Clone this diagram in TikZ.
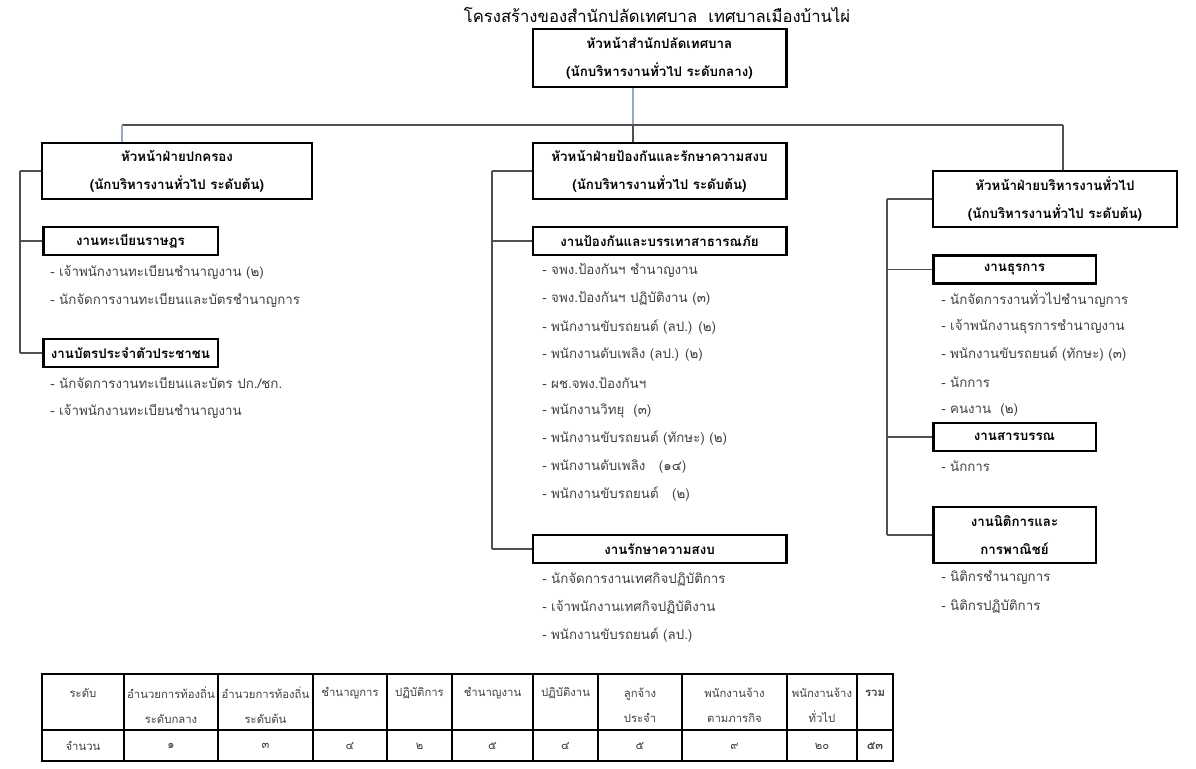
\documentclass[tikz,border=0pt]{standalone}
\usepackage{fontspec}
\setmainfont{Loma}[Script=Thai]
\usetikzlibrary{calc}
\definecolor{ink}{HTML}{404040}
\definecolor{wire}{HTML}{505050}
\definecolor{steel}{HTML}{95A9C6}
\tikzset{
  box/.style={draw=black, line width=2pt, align=center, inner sep=0pt, font=\bfseries\fontsize{10}{21}\selectfont},
  headbox/.style={box, minimum width=190pt, minimum height=42pt},
  subbox/.style={box, minimum height=21pt},
  item/.style={anchor=west, inner sep=0pt, text=ink, font=\fontsize{10}{12}\selectfont},
  cell/.style={align=center, inner sep=0pt, text=ink, font=\fontsize{8.5}{18.5}\selectfont},
  conn/.style={draw=wire, line width=1pt},
  drop/.style={draw=steel, line width=1pt},
  grid/.style={draw=black, line width=1.8pt}
}
\begin{document}
\begin{tikzpicture}[x=0.75pt, y=-0.75pt]
\useasboundingbox (0,0) rectangle (1196,768);
\node[font=\fontsize{12.5}{15}\selectfont] (title) at (657,15) {โครงสร้างของสำนักปลัดเทศบาล\ \ เทศบาลเมืองบ้านไผ่};

\node[headbox, minimum height=43.5pt] (top) at (659.5,58) {หัวหน้าสำนักปลัดเทศบาล\\(นักบริหารงานทั่วไป ระดับกลาง)};
\node[headbox, minimum width=202.5pt] (lhead) at (177,171) {หัวหน้าฝ่ายปกครอง\\(นักบริหารงานทั่วไป ระดับต้น)};
\node[headbox] (mhead) at (659.5,171) {หัวหน้าฝ่ายป้องกันและรักษาความสงบ\\(นักบริหารงานทั่วไป ระดับต้น)};
\node[headbox, minimum width=183pt] (rhead) at (1055,199) {หัวหน้าฝ่ายบริหารงานทั่วไป\\(นักบริหารงานทั่วไป ระดับต้น)};

\node[subbox, minimum width=131pt] (lsub1) at (130.5,241) {งานทะเบียนราษฎร};
\node[subbox, minimum width=131pt] (lsub2) at (130.5,353) {งานบัตรประจำตัวประชาชน};
\node[subbox, minimum width=190pt] (msub1) at (659.5,241) {งานป้องกันและบรรเทาสาธารณภัย};
\node[subbox, minimum width=190pt] (msub2) at (659.5,549) {งานรักษาความสงบ};
\node[subbox, minimum width=122pt] (rsub1) at (1014.5,269.5) {งานธุรการ};
\node[subbox, minimum width=122pt] (rsub2) at (1014.5,437) {งานสารบรรณ};
\node[subbox, minimum width=122pt, minimum height=42pt] (rsub3) at (1014.5,535) {งานนิติการและ\\การพาณิชย์};

\coordinate (hub) at (633,125);
\coordinate (busl) at (122,125);
\coordinate (busr) at (1063,125);
\draw[drop] (top.south -| hub) -- (hub);
\draw[conn] (busl) -- (busr);
\draw[drop] (busl) -- (busl |- lhead.north);
\draw[conn] (hub) -- (hub |- mhead.north);
\draw[conn] (busr) -- (busr |- rhead.north);

\coordinate (ltr) at (20,0);
\coordinate (mtr) at (492,0);
\coordinate (rtr) at (887,0);
\draw[conn] (lhead.west -| ltr) -- (lsub2.west -| ltr);
\draw[conn] (mhead.west -| mtr) -- (msub2.west -| mtr);
\draw[conn] (rhead.west -| rtr) -- (rsub3.west -| rtr);
\foreach \b in {lhead,lsub1,lsub2} {\draw[conn] (\b.west) -- (\b.west -| ltr);}
\foreach \b in {mhead,msub1,msub2} {\draw[conn] (\b.west) -- (\b.west -| mtr);}
\foreach \b in {rhead,rsub1,rsub2,rsub3} {\draw[conn] (\b.west) -- (\b.west -| rtr);}

\foreach \t [count=\n] in {{- เจ้าพนักงานทะเบียนชำนาญงาน (๒)}, {- นักจัดการงานทะเบียนและบัตรชำนาญการ}}
  \node[item] (la\n) at (50,244+28*\n) {\t};
\foreach \t [count=\n] in {{- นักจัดการงานทะเบียนและบัตร ปก./ชก.}, {- เจ้าพนักงานทะเบียนชำนาญงาน}}
  \node[item] (lb\n) at (50,355+28*\n) {\t};
\foreach \t [count=\n] in {{- จพง.ป้องกันฯ ชำนาญงาน}, {- จพง.ป้องกันฯ ปฏิบัติงาน (๓)}, {- พนักงานขับรถยนต์ (ลป.) (๒)}, {- พนักงานดับเพลิง (ลป.) (๒)}, {- ผช.จพง.ป้องกันฯ}, {- พนักงานวิทยุ\ \ (๓)}, {- พนักงานขับรถยนต์ (ทักษะ) (๒)}, {- พนักงานดับเพลิง\ \ \ (๑๔)}, {- พนักงานขับรถยนต์\ \ \ (๒)}}
  \node[item] (ma\n) at (542,243+27.9*\n) {\t};
\foreach \t [count=\n] in {{- นักจัดการงานเทศกิจปฏิบัติการ}, {- เจ้าพนักงานเทศกิจปฏิบัติงาน}, {- พนักงานขับรถยนต์ (ลป.)}}
  \node[item] (mb\n) at (542,551+28*\n) {\t};
\foreach \t [count=\n] in {{- นักจัดการงานทั่วไปชำนาญการ}, {- เจ้าพนักงานธุรการชำนาญงาน}, {- พนักงานขับรถยนต์ (ทักษะ) (๓)}, {- นักการ}, {- คนงาน\ \ (๒)}}
  \node[item] (ra\n) at (941,271+27.8*\n) {\t};
\node[item] (rb1) at (941,466) {- นักการ};
\foreach \t [count=\n] in {{- นิติกรชำนาญการ}, {- นิติกรปฏิบัติการ}}
  \node[item] (rc\n) at (941,550+28*\n) {\t};

\foreach \xa/\xb/\yh/\h/\v [count=\n] in {
  42/124/693/{ระดับ}/{จำนวน},
  124/218/705.5/{อำนวยการท้องถิ่น\\ระดับกลาง}/{๑},
  218/313/705.5/{อำนวยการท้องถิ่น\\ระดับต้น}/{๓},
  313/387/693/{ชำนาญการ}/{๔},
  387/452/693/{ปฏิบัติการ}/{๒},
  452/533/693/{ชำนาญงาน}/{๕},
  533/598/693/{ปฏิบัติงาน}/{๔},
  598/682/705.5/{ลูกจ้าง\\ประจำ}/{๕},
  682/787/705.5/{พนักงานจ้าง\\ตามภารกิจ}/{๙},
  787/857/705.5/{พนักงานจ้าง\\ทั่วไป}/{๒๐},
  857/893/693/{\bfseries รวม}/{\bfseries ๕๓}}{
  \draw[grid] (\xa,674) rectangle (\xb,761);
  \node[cell] (h\n) at ({(\xa+\xb)/2},\yh) {\h};
  \node[cell] (v\n) at ({(\xa+\xb)/2},746) {\v};
}
\draw[grid] (42,730) -- (893,730);
\end{tikzpicture}
\end{document}
